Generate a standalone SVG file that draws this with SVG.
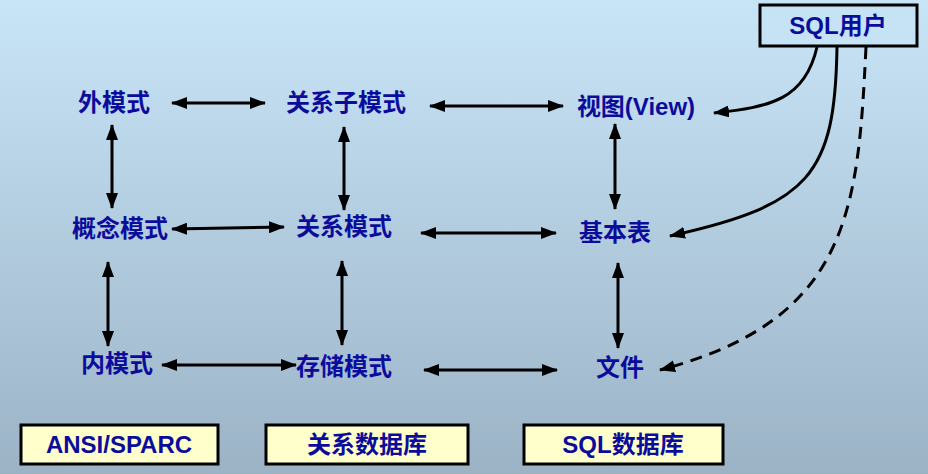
<svg xmlns="http://www.w3.org/2000/svg" width="928" height="474" viewBox="0 0 928 474">
<defs>
<linearGradient id="bg" x1="0" y1="0" x2="0" y2="1">
<stop offset="0" stop-color="#c8e5f7"/>
<stop offset="1" stop-color="#9cb3c6"/>
</linearGradient>
<marker id="ah" viewBox="0 0 16 12" refX="15" refY="6" markerWidth="16" markerHeight="12" markerUnits="userSpaceOnUse" orient="auto-start-reverse">
<path d="M0,0 L16,6 L0,12 Z" fill="#000"/>
</marker>
<style>
.t{font-family:"Liberation Sans","Noto Sans CJK SC",sans-serif;font-weight:bold;font-size:24px;fill:#0c0c9c;text-anchor:middle}
.box{stroke:#000;stroke-width:3}
.c{fill:none;stroke:#000;stroke-width:3}
.d{marker-start:url(#ah);marker-end:url(#ah)}
.s{marker-end:url(#ah)}
</style>
</defs>
<rect width="928" height="474" fill="url(#bg)"/>
<g id="sqluser"><rect class="box" x="760" y="5" width="157" height="41" fill="#c6e3f5"/><text class="t" x="838" y="34">SQL用户</text></g>
<g id="waimoshi"><text class="t" x="114" y="111">外模式</text></g>
<g id="guanxizimoshi"><text class="t" x="346" y="111">关系子模式</text></g>
<g id="view"><text class="t" x="636" y="115">视图(View)</text></g>
<g id="gainianmoshi"><text class="t" x="120" y="237">概念模式</text></g>
<g id="guanximoshi"><text class="t" x="344" y="235">关系模式</text></g>
<g id="jibenbiao"><text class="t" x="615" y="241">基本表</text></g>
<g id="neimoshi"><text class="t" x="117" y="372">内模式</text></g>
<g id="cunchumoshi"><text class="t" x="344" y="375">存储模式</text></g>
<g id="wenjian"><text class="t" x="620" y="376">文件</text></g>
<g id="ansi"><rect class="box" x="21" y="425" width="197" height="39" fill="#ffffcc"/><text class="t" x="119" y="453">ANSI/SPARC</text></g>
<g id="gxsjk"><rect class="box" x="266" y="425" width="202" height="39" fill="#ffffcc"/><text class="t" x="367" y="453">关系数据库</text></g>
<g id="sqlsjk"><rect class="box" x="524" y="425" width="199" height="39" fill="#ffffcc"/><text class="t" x="623" y="453">SQL数据库</text></g>
<g id="connectors">
<line class="c d" x1="172" y1="103" x2="265" y2="103"/>
<line class="c d" x1="430" y1="106" x2="563" y2="106"/>
<line class="c d" x1="112" y1="125" x2="112" y2="208"/>
<line class="c d" x1="344" y1="127" x2="344" y2="210"/>
<line class="c d" x1="615" y1="124" x2="615" y2="209"/>
<line class="c d" x1="172" y1="229" x2="284" y2="227"/>
<line class="c d" x1="421" y1="233" x2="556" y2="233"/>
<line class="c d" x1="108" y1="262" x2="108" y2="346"/>
<line class="c d" x1="342" y1="261" x2="342" y2="345"/>
<line class="c d" x1="618" y1="263" x2="618" y2="348"/>
<line class="c d" x1="162" y1="365" x2="296" y2="365"/>
<line class="c d" x1="424" y1="370" x2="557" y2="370"/>
<path class="c s" d="M817,47 C805,100 770,107 714,113"/>
<path class="c s" d="M837,47 C835,175 810,205 670,236"/>
<path class="c s" d="M866,47 C858,210 850,320 660,370" stroke-dasharray="12,8"/>
</g>
</svg>
